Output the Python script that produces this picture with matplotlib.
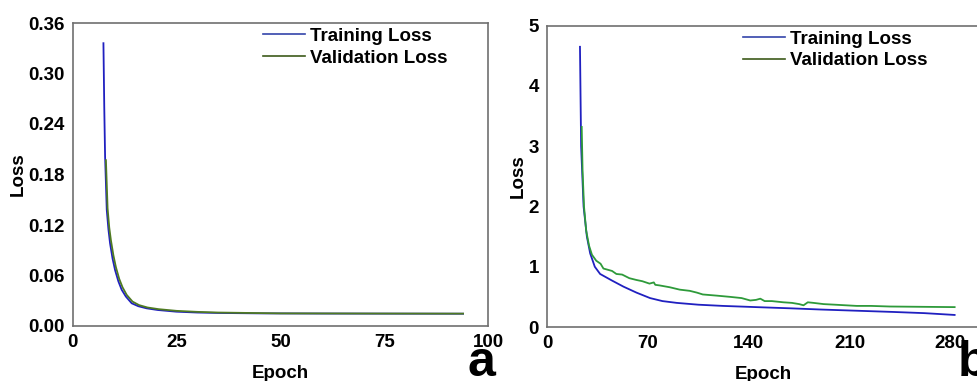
import matplotlib.pyplot as plt
from matplotlib.lines import Line2D

plt.rcParams['font.family'] = ['Liberation Sans', 'DejaVu Sans']
plt.rcParams['font.weight'] = 'bold'

# === (a) 数据 ===
a_train_epoch = [7.4, 7.6, 7.8, 8.2, 8.6, 9.0, 9.6, 10.2, 11.0, 11.8, 12.8, 14.2, 15.8,
                 17.8, 20.5, 25, 30, 35, 45, 60, 75, 94]
a_train_loss = [0.336, 0.26, 0.201, 0.138, 0.115, 0.098, 0.080, 0.0665, 0.053, 0.043,
                0.035, 0.027, 0.0235, 0.021, 0.019, 0.017, 0.016, 0.0155, 0.015, 0.0148,
                0.0147, 0.0146]
a_val_epoch = [8.0, 8.4, 8.8, 9.2, 9.8, 10.4, 11.2, 12.0, 13.0, 14.4, 16.0, 18.0, 20.7,
               25, 30, 35, 50, 75, 94]
a_val_loss = [0.197, 0.140, 0.117, 0.102, 0.084, 0.070, 0.056, 0.046, 0.037, 0.029,
              0.0248, 0.022, 0.020, 0.018, 0.0168, 0.016, 0.015, 0.0148, 0.0147]

# === (b) 数据 ===
b_train_epoch = [22.7, 23.5, 25.2, 27.5, 29.8, 33, 36.7, 45, 52.9, 62, 71.4, 80, 90,
                 105, 122, 145, 169, 190, 215, 240, 262, 283]
b_train_loss = [4.65, 3.0, 2.0, 1.5, 1.22, 1.0, 0.88, 0.77, 0.67, 0.57, 0.48, 0.43, 0.40,
                0.37, 0.35, 0.33, 0.31, 0.29, 0.27, 0.25, 0.23, 0.20]
b_val_epoch = [23.9, 24.5, 25.5, 27, 29, 31, 34, 37, 39, 42, 45, 48, 52, 57, 62, 66, 71,
               74, 75, 78, 85, 92, 99, 104, 108, 118, 127, 135, 141, 145, 148, 151, 156,
               160, 164, 170, 175, 178, 181, 185, 192, 200, 215, 225, 238, 260, 283]
b_val_loss = [3.32, 2.6, 2.0, 1.6, 1.35, 1.2, 1.1, 1.05, 0.97, 0.95, 0.93, 0.88, 0.87,
              0.81, 0.78, 0.76, 0.72, 0.74, 0.70, 0.69, 0.66, 0.62, 0.60, 0.57, 0.54,
              0.52, 0.50, 0.48, 0.44, 0.45, 0.47, 0.43, 0.43, 0.42, 0.41, 0.40, 0.38,
              0.36, 0.41, 0.40, 0.38, 0.37, 0.35, 0.35, 0.34, 0.335, 0.33]

a_xticks = [0, 25, 50, 75, 100]
a_yticks = [0.00, 0.06, 0.12, 0.18, 0.24, 0.30, 0.36]
b_xticks = [0, 70, 140, 210, 280]
b_yticks = [0, 1, 2, 3, 4, 5]

W, H = 977, 381
FS = 13.5
fig = plt.figure(figsize=(W / 100, H / 100), dpi=100)
ax1 = fig.add_axes([72.7 / W, 55 / H, 415.3 / W, 303 / H])
ax2 = fig.add_axes([547.3 / W, 54 / H, 431.8 / W, 301.3 / H])

train_c = '#2020c0'
leg_handles = [Line2D([], [], color='#3344aa', lw=1.2),
               Line2D([], [], color='#3d5a1a', lw=1.2)]


def style(ax, anchor_x):
    for s in ax.spines.values():
        s.set_color('#707070')
        s.set_linewidth(1.2)
    ax.tick_params(length=0, labelsize=FS, pad=6)
    for lab in ax.get_xticklabels() + ax.get_yticklabels():
        lab.set_fontweight('bold')
    ax.set_xlabel('Epoch', fontsize=FS, fontweight='bold', labelpad=10)
    ax.set_ylabel('Loss', fontsize=FS, fontweight='bold', labelpad=1)
    ax.legend(leg_handles, ['Training Loss', 'Validation Loss'], frameon=False,
              loc='upper right', bbox_to_anchor=(anchor_x, 1.04),
              handlelength=2.2, handletextpad=0.3, labelspacing=0.25,
              prop={'weight': 'bold', 'size': FS})


ax1.plot(a_train_epoch, a_train_loss, color=train_c, lw=1.3)
ax1.plot(a_val_epoch, a_val_loss, color='#4f7a22', lw=1.3)
ax1.set_xlim(0, 100)
ax1.set_ylim(0, 0.36)
ax1.set_xticks(a_xticks)
ax1.set_yticks(a_yticks)
ax1.set_yticklabels([f'{v:.2f}' for v in a_yticks])
style(ax1, 0.944)

ax2.plot(b_train_epoch, b_train_loss, color=train_c, lw=1.3)
ax2.plot(b_val_epoch, b_val_loss, color='#2e9a3a', lw=1.3)
ax2.set_xlim(0, 300)
ax2.set_ylim(0, 5)
ax2.set_xticks(b_xticks)
ax2.set_yticks(b_yticks)
style(ax2, 0.92)

fig.text(481 / W, 1 - 376 / H, 'a', fontsize=36, fontweight='bold', ha='center', va='baseline')
fig.text(958 / W, 1 - 376 / H, 'b', fontsize=36, fontweight='bold', ha='left', va='baseline')

fig.savefig('out.png', dpi=100)
